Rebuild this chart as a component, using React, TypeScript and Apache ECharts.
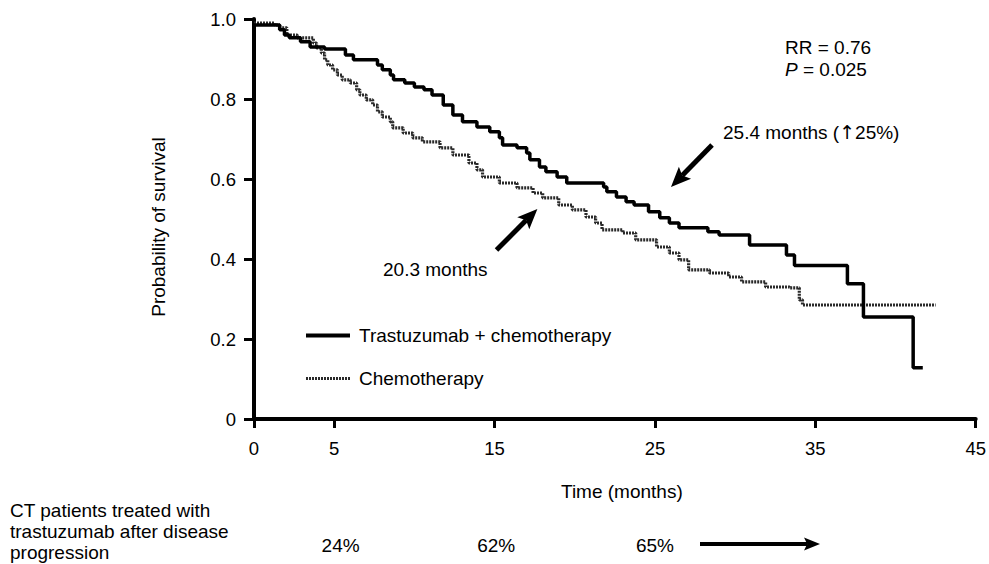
import React, { useEffect, useRef } from "react";
import * as echarts from "echarts";

// ---- Data ----
const xTicks = [0, 5, 15, 25, 35, 45];
const yTicks = [0, 0.2, 0.4, 0.6, 0.8, 1.0];

const seriesNames = ["Trastuzumab + chemotherapy", "Chemotherapy"];

const tMonths = [0, 1.6, 1.9, 2.2, 2.9, 3.5, 4.4, 5.7, 6.2, 7.7, 8.0, 8.5, 8.7, 9.4, 10.0, 10.6, 11.1, 11.8, 12.4, 13.0, 13.9, 14.7, 15.3, 15.5, 16.4, 17.0, 17.2, 17.8, 18.2, 18.9, 19.5, 21.8, 22.0, 22.6, 23.2, 23.7, 24.6, 25.3, 25.9, 26.5, 28.3, 29.0, 30.9, 33.2, 33.7, 37.0, 38.0, 41.1, 41.7];
const tSurv = [0.985, 0.973, 0.96, 0.953, 0.943, 0.93, 0.925, 0.91, 0.898, 0.885, 0.873, 0.86, 0.848, 0.84, 0.83, 0.823, 0.81, 0.785, 0.76, 0.743, 0.73, 0.718, 0.703, 0.685, 0.678, 0.665, 0.648, 0.63, 0.618, 0.605, 0.59, 0.58, 0.568, 0.555, 0.543, 0.535, 0.518, 0.503, 0.49, 0.478, 0.468, 0.46, 0.435, 0.41, 0.384, 0.338, 0.255, 0.128, 0.128];

const cMonths = [0, 1.3, 1.6, 2.05, 2.7, 3.7, 3.9, 4.2, 4.4, 4.6, 4.9, 5.2, 5.5, 6.0, 6.4, 6.6, 7.0, 7.4, 7.7, 8.0, 8.5, 8.65, 9.3, 9.9, 10.5, 11.6, 12.4, 13.4, 13.9, 14.25, 15.3, 16.4, 17.4, 18.0, 19.0, 19.85, 20.7, 21.3, 21.7, 23.0, 23.8, 25.1, 25.9, 26.5, 27.1, 28.4, 29.6, 30.4, 31.9, 33.4, 34.0, 34.2, 42.5];
const cSurv = [0.99, 0.985, 0.978, 0.96, 0.953, 0.94, 0.928, 0.915, 0.898, 0.885, 0.873, 0.86, 0.848, 0.84, 0.823, 0.81, 0.798, 0.785, 0.768, 0.755, 0.743, 0.728, 0.715, 0.703, 0.693, 0.678, 0.66, 0.64, 0.623, 0.605, 0.59, 0.578, 0.565, 0.553, 0.535, 0.523, 0.505, 0.49, 0.473, 0.465, 0.448, 0.43, 0.415, 0.398, 0.373, 0.365, 0.355, 0.343, 0.33, 0.328, 0.298, 0.285, 0.285];

// Bottom row: CT patients treated with trastuzumab after progression
const ctMonths = [5.4, 15.1, 25.0];
const ctLabels = ["24%", "62%", "65%"];

const FONT = "'Liberation Sans', Arial, Helvetica, sans-serif";

function zip(xs: number[], ys: number[]) {
  const n = Math.min(xs.length, ys.length);
  const out: number[][] = [];
  for (let i = 0; i < n; i++) out.push([xs[i], ys[i]]);
  return out;
}

function arrow(x1: number, y1: number, x2: number, y2: number, lw: number, hl: number, hw: number) {
  const dx = x2 - x1, dy = y2 - y1;
  const L = Math.hypot(dx, dy);
  const ux = dx / L, uy = dy / L;
  const px = -uy, py = ux;
  const bx = x2 - ux * hl, by = y2 - uy * hl;
  const nx = bx + ux * hl * 0.2, ny = by + uy * hl * 0.2;
  return [
    {
      type: "line",
      shape: { x1, y1, x2: nx, y2: ny },
      style: { stroke: "#000", lineWidth: lw },
      silent: true,
    },
    {
      type: "polygon",
      shape: {
        points: [
          [x2, y2],
          [bx + (px * hw) / 2, by + (py * hw) / 2],
          [nx, ny],
          [bx - (px * hw) / 2, by - (py * hw) / 2],
        ],
      },
      style: { fill: "#000" },
      silent: true,
    },
  ];
}

export default function App() {
  const ref = useRef<HTMLDivElement>(null);

  useEffect(() => {
    if (!ref.current) return;
    const chart = echarts.init(ref.current, undefined, { renderer: "svg" });

    const tickText = { fontSize: 18.5, color: "#000", fontFamily: FONT };
    const nameText = { fontSize: 19, color: "#000", fontFamily: FONT };

    const tLine = { color: "#000", width: 3.5 };
    const cLine = { color: "#2a2a2a", width: 3.2, type: [2, 1] };

    chart.setOption({
      animation: false,
      backgroundColor: "#fff",
      grid: { left: 254, right: 12, top: 19, bottom: 145, containLabel: false },
      xAxis: {
        type: "value",
        min: 0,
        max: 45,
        name: "Time (months)",
        nameLocation: "middle",
        nameGap: 63,
        nameTextStyle: { ...nameText, padding: [0, 0, 0, 14] },
        axisLine: { show: true, lineStyle: { color: "#000", width: 4 } },
        axisTick: { show: true, customValues: xTicks, length: 9, lineStyle: { color: "#000", width: 3 } },
        axisLabel: { customValues: xTicks, margin: 20, ...tickText },
        splitLine: { show: false },
      },
      yAxis: {
        type: "value",
        min: 0,
        max: 1,
        interval: 0.2,
        name: "Probability of survival",
        nameLocation: "middle",
        nameGap: 86,
        nameRotate: 90,
        nameTextStyle: { ...nameText, padding: [0, 16, 0, 0] },
        axisLine: { show: true, lineStyle: { color: "#000", width: 4 } },
        axisTick: { show: true, customValues: yTicks, length: 10, lineStyle: { color: "#000", width: 3 } },
        axisLabel: {
          customValues: yTicks,
          margin: 18,
          ...tickText,
          formatter: (v: number) => (Math.abs(v) < 1e-9 ? "0" : v.toFixed(1)),
        },
        splitLine: { show: false },
      },
      legend: {
        orient: "vertical",
        left: 299,
        top: 321,
        itemWidth: 44,
        itemHeight: 14,
        itemGap: 24,
        selectedMode: false,
        itemStyle: { opacity: 0 },
        textStyle: { ...nameText, padding: [0, 0, 0, 4] },
        data: [
          { name: seriesNames[0], lineStyle: { width: 4 } },
          { name: seriesNames[1], lineStyle: { width: 3.2 } },
        ],
      },
      series: [
        {
          type: "line",
          name: seriesNames[1],
          data: zip(cMonths, cSurv),
          step: "end",
          symbol: "none",
          lineStyle: cLine,
          itemStyle: { color: cLine.color },
          z: 2,
        },
        {
          type: "line",
          name: seriesNames[0],
          data: zip(tMonths, tSurv),
          step: "end",
          symbol: "none",
          lineStyle: tLine,
          itemStyle: { color: tLine.color },
          z: 3,
        },
      ],
    });

    const p = (x: number, y: number) => chart.convertToPixel({ gridIndex: 0 }, [x, y]) as number[];
    const tFrom = p(28.56, 0.685), tTo = p(26.0, 0.58);
    const cFrom = p(15.12, 0.4225), cTo = p(17.67, 0.525);

    const txt = (text: string, x: number, y: number, align = "left", extra: any = {}) => ({
      type: "text",
      x,
      y,
      silent: true,
      style: {
        text,
        fill: "#000",
        fontSize: 19,
        fontFamily: FONT,
        align,
        verticalAlign: "middle",
        ...extra,
      },
    });

    const graphic: any[] = [
      txt("RR = 0.76", 785, 47),
      txt("{i|P} = 0.025", 785, 69, "left", {
        rich: { i: { fontStyle: "italic", fontSize: 19, fontFamily: FONT, fill: "#000" } },
      }),
      txt("25.4 months ({a|\u2191}25%)", 723, 132, "left", {
        rich: { a: { fontSize: 19, fontFamily: "'DejaVu Sans'", fill: "#000" } },
      }),
      txt("20.3 months", 383, 269),
      ...arrow(tFrom[0], tFrom[1], tTo[0], tTo[1], 5, 20, 17),
      ...arrow(cFrom[0], cFrom[1], cTo[0], cTo[1], 5, 20, 17),
      {
        type: "text",
        x: 10,
        y: 500,
        silent: true,
        style: {
          text: "CT patients treated with\ntrastuzumab after disease\nprogression",
          fill: "#000",
          fontSize: 19,
          fontFamily: FONT,
          lineHeight: 21,
          align: "left",
          verticalAlign: "top",
        },
      },
      ...ctMonths.map((m, i) => txt(ctLabels[i], p(m, 0)[0], 545, "center")),
      ...arrow(700, 544, 820, 544, 4, 16, 13),
    ];

    chart.setOption({ graphic });

    return () => chart.dispose();
  }, []);

  return (
    <div
      ref={ref}
      style={{ position: "fixed", left: 0, top: 0, width: 989, height: 564, background: "#fff" }}
    />
  );
}
